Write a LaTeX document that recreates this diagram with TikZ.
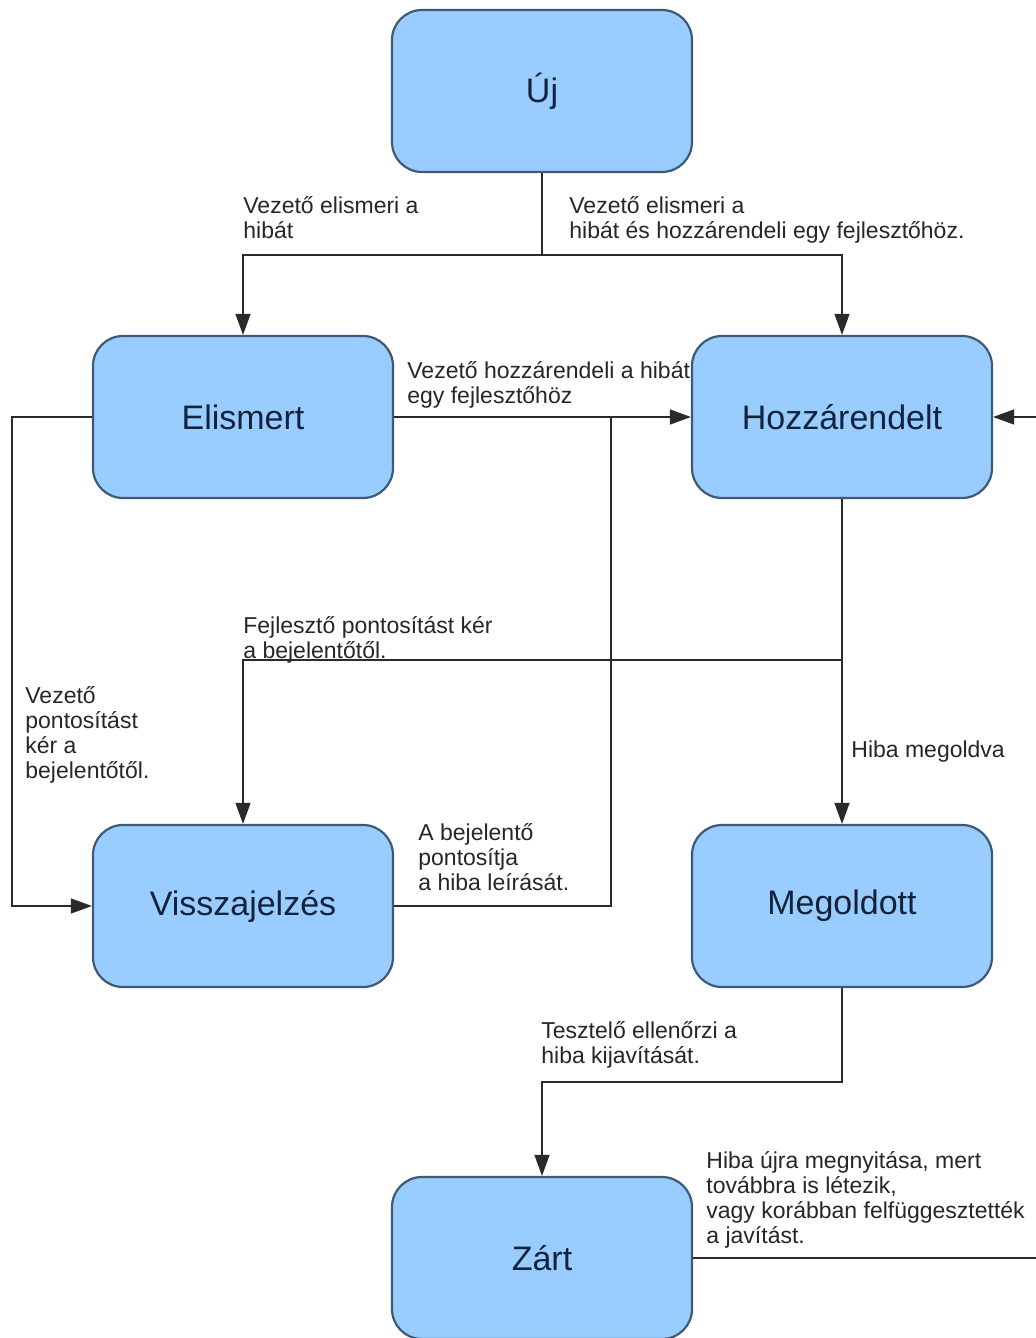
\documentclass[tikz,border=0pt]{standalone}
\usepackage{fontspec}
\setmainfont{Liberation Sans}
\usetikzlibrary{arrows.meta}
\definecolor{boxfill}{HTML}{99CCFF}
\definecolor{boxline}{HTML}{3E5A74}
\definecolor{boxtext}{HTML}{14233C}
\definecolor{wire}{HTML}{2A2A2A}
\def\wid{150pt}
\def\hei{81pt}

\begin{document}
\begin{tikzpicture}[x=0.5pt,y=-0.5pt,>={Triangle[length=10.5pt,width=7.5pt]}]
\tikzset{
  allapot/.style={draw=boxline,fill=boxfill,line width=1.1pt,rounded corners=15pt,
    minimum width=\wid,minimum height=\hei,text centered,text=boxtext,
    font=\fontsize{17}{20}\selectfont},
  felirat/.style={anchor=north west,align=left,inner sep=0pt,text=black!85,
    font=\fontsize{11.5}{12.5}\selectfont},
  wirestyle/.style={draw=wire,line width=0.6pt}
}
\useasboundingbox (0,0) rectangle (1036,1338);
\node[allapot] (uj) at (542,91) {Új};
\node[allapot] (elism) at (243,417) {Elismert};
\node[allapot] (hozz) at (842,417) {Hozzárendelt};
\node[allapot] (vissza) at (243,906) {Visszajelzés};
\node[allapot] (megold) at (842,906) {Megoldott};
\node[allapot] (zart) at (542,1258) {Zárt};
% break points of the connectors
\coordinate (jn1) at (542,255);
\coordinate (jn2) at (842,660);
\coordinate (jn3) at (611,417);
\coordinate (jn4) at (542,1082);
\coordinate (lft) at (12,417);
\coordinate (rgt) at (1042,1258);
% transition labels
\node[felirat] (t1) at (243,196) {Vezető elismeri a\\hibát};
\node[felirat] (t2) at (569,196) {Vezető elismeri a\\hibát és hozzárendeli egy fejlesztőhöz.};
\node[felirat] (t3) at (407,361) {Vezető hozzárendeli a hibát\\egy fejlesztőhöz};
\node[felirat] (t4) at (243,616) {Fejlesztő pontosítást kér\\a bejelentőtől.};
\node[felirat] (t5) at (25,686) {Vezető\\pontosítást\\kér a\\bejelentőtől.};
\node[felirat] (t6) at (851,740) {Hiba megoldva};
\node[felirat] (t7) at (418,823) {A bejelentő\\pontosítja\\a hiba leírását.};
\node[felirat] (t8) at (541,1021) {Tesztelő ellenőrzi a\\hiba kijavítását.};
\node[felirat] (t9) at (706,1151) {Hiba újra megnyitása, mert\\továbbra is létezik,\\vagy korábban felfüggesztették\\a javítást.};
\draw[wirestyle] (uj.south) to (jn1);
\draw[wirestyle,->] (jn1) -| (elism.north);
\draw[wirestyle,->] (jn1) -| (hozz.north);
\draw[wirestyle,->] (elism.east) to (hozz.west);
\draw[wirestyle,->] (elism.west) -- (lft) |- (vissza.west);
\draw[wirestyle,->] (hozz.south) to (megold.north);
\draw[wirestyle,->] (jn2) -| (vissza.north);
\draw[wirestyle] (vissza.east) -| (jn3);
\draw[wirestyle,->] (megold.south) |- (jn4) -- (zart.north);
\draw[wirestyle,->] (zart.east) -- (rgt) |- (hozz.east);
\end{tikzpicture}
\end{document}
